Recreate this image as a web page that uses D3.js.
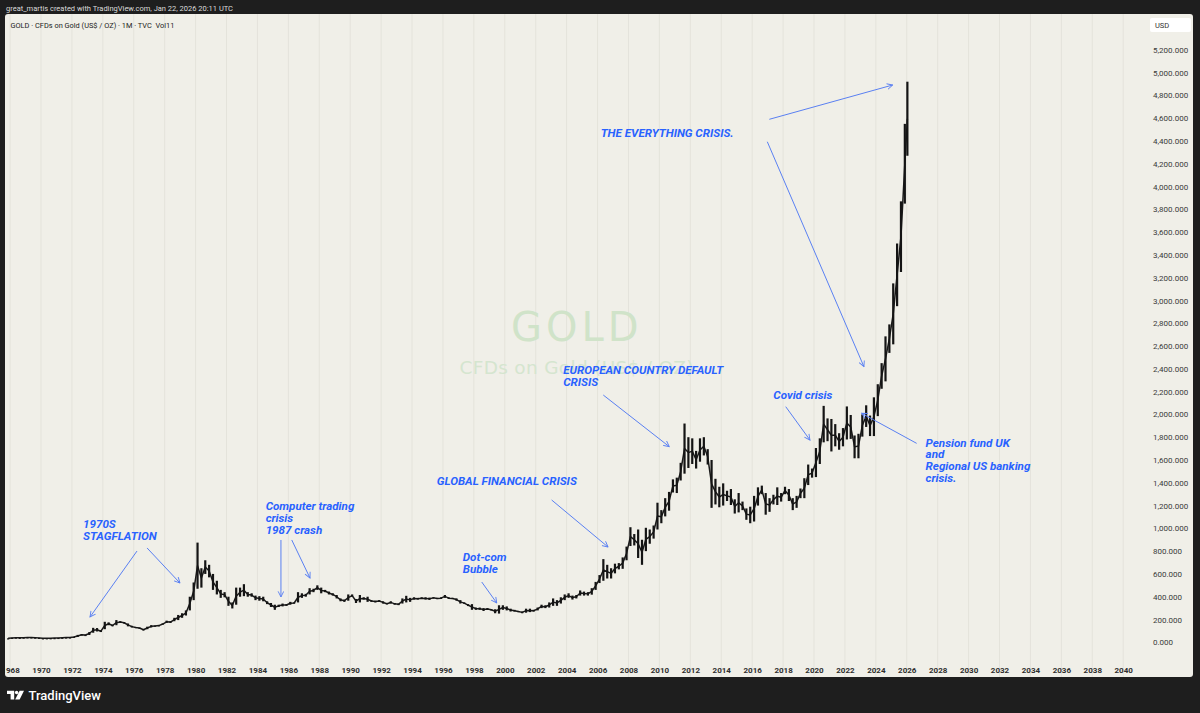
<!DOCTYPE html>
<html>
<head>
<meta charset="utf-8">
<script src="https://cdn.jsdelivr.net/npm/d3@7/dist/d3.min.js"></script>
<style>
    html, body { margin: 0; padding: 0; background: #1e1e1e; }
    svg { display: block; }
</style>
</head>
<body>
<div id="chart"></div>
<script>
// first bar = 1967 Q4, one value per quarter after that (last one is Jan 2026 only)
var firstQuarter = 1967.75;
var lastBarYear = 2026.04;

// quarterly lows (US$ / oz)
var quarterLow = [
    34.9,
    35.0, 38.5, 38.5, 39.0,     // 1968
    41.0, 42.0, 40.0, 35.5,     // 1969
    34.8, 35.0, 35.2, 36.5,     // 1970
    37.5, 38.5, 40.0, 42.0,     // 1971
    43.5, 47.0, 63.0, 62.0,     // 1972
    64, 84, 95, 90,             // 1973
    115, 150, 140, 150,         // 1974
    170, 165, 140, 130,         // 1975
    125, 124, 104, 115,         // 1976
    130, 140, 143, 155,         // 1977
    170, 170, 185, 195,         // 1978
    215, 235, 280, 370,         // 1979
    470, 480, 600, 570,         // 1980
    460, 420, 390, 395,         // 1981
    320, 297, 330, 400,         // 1982
    405, 400, 400, 370,         // 1983
    365, 360, 335, 310,         // 1984
    285, 310, 315, 320,         // 1985
    330, 340, 350, 390,         // 1986
    400, 420, 440, 460,         // 1987
    430, 440, 420, 410,         // 1988
    385, 360, 355, 365,         // 1989
    400, 345, 350, 375,         // 1990
    355, 355, 350, 355,         // 1991
    340, 333, 340, 330,         // 1992
    326, 340, 350, 355,         // 1993
    375, 375, 380, 375,         // 1994
    372, 385, 380, 380,         // 1995
    390, 380, 380, 365,         // 1996
    340, 338, 318, 285,         // 1997
    285, 285, 275, 285,         // 1998
    280, 255, 252, 285,         // 1999
    280, 270, 270, 265,         // 2000
    255, 260, 265, 270,         // 2001
    280, 300, 300, 305,         // 2002
    320, 320, 340, 370,         // 2003
    390, 375, 385, 410,         // 2004
    410, 410, 418, 460,         // 2005
    520, 540, 560, 560,         // 2006
    605, 640, 645, 720,         // 2007
    845, 850, 740, 680,         // 2008
    800, 865, 910, 990,         // 2009
    1045, 1105, 1155, 1315,     // 2010
    1310, 1420, 1480, 1530,     // 2011
    1565, 1525, 1585, 1640,     // 2012
    1560, 1180, 1210, 1185,     // 2013
    1200, 1240, 1205, 1130,     // 2014
    1140, 1160, 1075, 1045,     // 2015
    1060, 1200, 1300, 1120,     // 2016
    1145, 1210, 1205, 1235,     // 2017
    1300, 1240, 1160, 1180,     // 2018
    1265, 1265, 1380, 1445,     // 2019
    1450, 1565, 1755, 1765,     // 2020
    1675, 1720, 1690, 1720,     // 2021
    1780, 1785, 1615, 1615,     // 2022
    1805, 1890, 1810, 1810,     // 2023
    1985, 2225, 2290, 2540,     // 2024
    2615, 2950, 3250, 3850,     // 2025
    4270                        // 2026 (Jan)
];

// quarterly highs (US$ / oz)
var quarterHigh = [
    35.2,
    40, 42, 40, 42,             // 1968
    44, 43.5, 42, 40,           // 1969
    35.5, 36, 36.5, 37.5,       // 1970
    39, 40.5, 42.8, 43.5,       // 1971
    49, 65, 70, 65,             // 1972
    90, 127, 125, 105,          // 1973
    180, 175, 155, 195,         // 1974
    185, 178, 165, 145,         // 1975
    135, 128, 117, 137,         // 1976
    150, 147, 150, 165,         // 1977
    190, 185, 215, 240,         // 1978
    255, 280, 400, 525,         // 1979
    875, 650, 720, 680,         // 1980
    600, 540, 460, 440,         // 1981
    400, 350, 480, 480,         // 1982
    510, 440, 430, 410,         // 1983
    405, 400, 360, 345,         // 1984
    330, 330, 340, 335,         // 1985
    355, 350, 440, 430,         // 1986
    425, 475, 470, 500,         // 1987
    480, 460, 445, 430,         // 1988
    415, 385, 375, 420,         // 1989
    420, 380, 415, 395,         // 1990
    400, 370, 365, 370,         // 1991
    360, 345, 360, 345,         // 1992
    340, 385, 408, 390,         // 1993
    395, 390, 395, 395,         // 1994
    392, 395, 390, 395,         // 1995
    415, 395, 390, 385,         // 1996
    370, 350, 335, 335,         // 1997
    305, 305, 300, 300,         // 1998
    290, 290, 325, 325,         // 1999
    315, 295, 285, 275,         // 2000
    270, 295, 295, 285,         // 2001
    305, 330, 325, 350,         // 2002
    385, 370, 395, 420,         // 2003
    430, 410, 415, 455,         // 2004
    445, 440, 475, 530,         // 2005
    590, 730, 680, 650,         // 2006
    690, 695, 745, 840,         // 2007
    1010, 950, 990, 900,        // 2008
    1005, 990, 1025, 1225,      // 2009
    1160, 1265, 1320, 1430,     // 2010
    1445, 1575, 1920, 1800,     // 2011
    1790, 1680, 1790, 1800,     // 2012
    1695, 1600, 1435, 1365,     // 2013
    1395, 1330, 1345, 1255,     // 2014
    1310, 1235, 1175, 1190,     // 2015
    1285, 1360, 1375, 1310,     // 2016
    1265, 1295, 1360, 1310,     // 2017
    1365, 1345, 1265, 1285,     // 2018
    1350, 1440, 1560, 1525,     // 2019
    1705, 1790, 2075, 1965,     // 2020
    1960, 1915, 1835, 1880,     // 2021
    2070, 1995, 1815, 1830,     // 2022
    2000, 2080, 1990, 2150,     // 2023
    2265, 2450, 2685, 2790,     // 2024
    3150, 3500, 3870, 4550,     // 2025
    4920                        // 2026 (Jan)
];

// axis ticks
var yearTicks = [1968, 1970, 1972, 1974, 1976, 1978, 1980, 1982, 1984, 1986,
                 1988, 1990, 1992, 1994, 1996, 1998, 2000, 2002, 2004, 2006,
                 2008, 2010, 2012, 2014, 2016, 2018, 2020, 2022, 2024, 2026,
                 2028, 2030, 2032, 2034, 2036, 2038, 2040];
var priceTicks = [0, 200, 400, 600, 800, 1000, 1200, 1400, 1600, 1800, 2000,
                  2200, 2400, 2600, 2800, 3000, 3200, 3400, 3600, 3800, 4000,
                  4200, 4400, 4600, 4800, 5000, 5200];

// annotation text, anchored at [year, price] of first line
var noteLines = [
    ["1970S", "STAGFLATION"],
    ["Computer trading", "crisis", "1987 crash"],
    ["Dot-com", "Bubble"],
    ["GLOBAL FINANCIAL CRISIS"],
    ["EUROPEAN COUNTRY DEFAULT", "CRISIS"],
    ["Covid crisis"],
    ["Pension fund UK", "and", "Regional US banking", "crisis."],
    ["THE EVERYTHING CRISIS."]
];
var noteAnchors = [
    [1972.72, 1000], [1984.53, 1160], [1997.28, 710], [1995.60, 1383],
    [2003.78, 2352], [2017.37, 2135], [2027.22, 1718], [2006.20, 4434]
];

// arrows: [from, to] in [year, price]
var arrows = [
    [[1976.21, 801],  [1973.17, 222]],
    [[1976.86, 828],  [1978.99, 520]],
    [[1985.52, 898],  [1985.52, 398]],
    [[1986.22, 898],  [1987.40, 564]],
    [[1998.51, 529],  [1999.48, 345]],
    [[2003.03, 1249], [2006.68, 836]],
    [[2006.37, 2170], [2010.64, 1717]],
    [[2018.17, 2068], [2019.74, 1775]],
    [[2026.64, 1746], [2023.08, 2010]],
    [[2017.11, 4590], [2025.09, 4891]],
    [[2016.98, 4393], [2023.23, 2419]]
];

function init(){
    var w = 1200;
    var h = 713;
    var blue = '#2962ff';
    var arrowBlue = '#5a80f2';

    var svg = d3.select('#chart')
                .append('svg')
                .attr('width', w)
                .attr('height', h);

    // dark frame
    svg.append('rect')
        .attr('width', w)
        .attr('height', h)
        .attr('fill', '#1e1e1e');

    // chart panel
    svg.append('rect')
        .attr('x', 5)
        .attr('y', 14)
        .attr('width', 1188)
        .attr('height', 663)
        .attr('rx', 3)
        .attr('fill', '#f0efe8');

    var defs = svg.append('defs');
    defs.append('clipPath')
        .attr('id', 'panel-clip')
        .append('rect')
        .attr('x', 5)
        .attr('y', 14)
        .attr('width', 1188)
        .attr('height', 663);

    defs.append('marker')
        .attr('id', 'arrowhead')
        .attr('viewBox', '0 0 10 10')
        .attr('refX', 9)
        .attr('refY', 5)
        .attr('markerWidth', 7)
        .attr('markerHeight', 7)
        .attr('markerUnits', 'userSpaceOnUse')
        .attr('orient', 'auto')
        .append('path')
        .attr('d', 'M1,1 L9,5 L1,9')
        .attr('fill', 'none')
        .attr('stroke', arrowBlue)
        .attr('stroke-width', 1.3);

    var xScale = d3.scaleLinear()
                    .domain([1970, 2040])
                    .range([41, 1123.2]);

    var yScale = d3.scaleLinear()
                    .domain([0, 5200])
                    .range([642.3, 49.8]);

    var g = svg.append('g')
                .attr('clip-path', 'url(#panel-clip)');

    // vertical grid every 2 years
    g.selectAll('line.grid')
        .data(yearTicks)
        .enter()
        .append('line')
        .attr('class', 'grid')
        .attr('x1', function(d){ return xScale(d); })
        .attr('x2', function(d){ return xScale(d); })
        .attr('y1', 14)
        .attr('y2', 677)
        .attr('stroke', '#e4e3db')
        .attr('stroke-width', 1);

    // watermark
    g.append('text')
        .attr('x', 576.7)
        .attr('y', 340.7)
        .attr('text-anchor', 'middle')
        .attr('font-family', 'DejaVu Sans, Arial, sans-serif')
        .attr('font-size', 40)
        .attr('letter-spacing', 4)
        .attr('fill', '#d0e3c9')
        .text('GOLD');

    g.append('text')
        .attr('x', 576.7)
        .attr('y', 374)
        .attr('text-anchor', 'middle')
        .attr('font-family', 'DejaVu Sans, Arial, sans-serif')
        .attr('font-size', 18.5)
        .attr('letter-spacing', 0.3)
        .attr('fill', '#d5e5cf')
        .text('CFDs on Gold (US$ / OZ)');

    // price data, one record per quarter
    var series = quarterLow.map(function(d, i){
        return {
            t: Math.min(firstQuarter + i / 4 + 0.125, lastBarYear),
            low: d,
            high: quarterHigh[i]
        };
    });

    // thin line through the middle of each range joins the bars
    var midLine = d3.line()
                    .x(function(d){ return xScale(d.t); })
                    .y(function(d){ return yScale((d.low + d.high) / 2); });

    g.append('path')
        .datum(series)
        .attr('d', midLine)
        .attr('fill', 'none')
        .attr('stroke', '#1a1a1a')
        .attr('stroke-width', 1.5)
        .attr('stroke-linejoin', 'round');

    // one range bar per quarter
    var barW = 2.2;
    g.selectAll('rect.bar')
        .data(series)
        .enter()
        .append('rect')
        .attr('class', 'bar')
        .attr('x', function(d){ return xScale(d.t) - barW / 2; })
        .attr('y', function(d){ return yScale(d.high); })
        .attr('width', barW)
        .attr('height', function(d){
            return Math.max(1.2, yScale(d.low) - yScale(d.high));
        })
        .attr('fill', '#141414');

    // x axis
    var xAxis = d3.axisBottom(xScale)
                    .tickValues(yearTicks)
                    .tickFormat(d3.format('d'))
                    .tickSize(0)
                    .tickPadding(0);

    var xg = g.append('g')
                .attr('transform', 'translate(0,667)')
                .call(xAxis);
    xg.select('.domain').remove();
    xg.selectAll('text')
        .attr('font-family', 'Roboto, Arial, sans-serif')
        .attr('font-size', 8)
        .attr('font-weight', 700)
        .attr('fill', '#2e2e2e');

    // y axis on the right
    var yAxis = d3.axisRight(yScale)
                    .tickValues(priceTicks)
                    .tickFormat(d3.format(',.3f'))
                    .tickSize(0)
                    .tickPadding(0);

    var yg = svg.append('g')
                .attr('transform', 'translate(1153,0)')
                .call(yAxis);
    yg.select('.domain').remove();
    yg.selectAll('text')
        .attr('font-family', 'Roboto, Arial, sans-serif')
        .attr('font-size', 8)
        .attr('fill', '#3a3a3a');

    // currency box
    svg.append('rect')
        .attr('x', 1150)
        .attr('y', 18)
        .attr('width', 41)
        .attr('height', 14)
        .attr('rx', 2)
        .attr('fill', '#ffffff');
    svg.append('text')
        .attr('x', 1155)
        .attr('y', 28)
        .attr('font-family', 'Roboto, Arial, sans-serif')
        .attr('font-size', 7.5)
        .attr('fill', '#333')
        .text('USD');

    // arrows
    g.selectAll('line.arrow')
        .data(arrows)
        .enter()
        .append('line')
        .attr('class', 'arrow')
        .attr('x1', function(d){ return xScale(d[0][0]); })
        .attr('y1', function(d){ return yScale(d[0][1]); })
        .attr('x2', function(d){ return xScale(d[1][0]); })
        .attr('y2', function(d){ return yScale(d[1][1]); })
        .attr('stroke', arrowBlue)
        .attr('stroke-width', 1)
        .attr('marker-end', 'url(#arrowhead)');

    // annotation labels
    var notes = g.selectAll('text.note')
        .data(noteLines)
        .enter()
        .append('text')
        .attr('class', 'note')
        .attr('x', function(d, i){ return xScale(noteAnchors[i][0]); })
        .attr('y', function(d, i){ return yScale(noteAnchors[i][1]); })
        .attr('font-family', 'Roboto, Arial, sans-serif')
        .attr('font-size', 11.6)
        .attr('font-weight', 700)
        .attr('font-style', 'italic')
        .attr('fill', blue);

    notes.each(function(lines, i){
        var t = d3.select(this);
        var x0 = xScale(noteAnchors[i][0]);
        lines.forEach(function(line, j){
            t.append('tspan')
                .attr('x', x0)
                .attr('dy', j === 0 ? 0 : 11.8)
                .text(line);
        });
    });

    // header line above the panel
    svg.append('text')
        .attr('x', 6)
        .attr('y', 11)
        .attr('font-family', 'Roboto, Arial, sans-serif')
        .attr('font-size', 7.5)
        .attr('fill', '#dcdcdc')
        .text('great_martis created with TradingView.com, Jan 22, 2026 20:11 UTC');

    // symbol legend
    svg.append('text')
        .attr('x', 10.5)
        .attr('y', 28)
        .attr('font-family', 'Roboto, Arial, sans-serif')
        .attr('font-size', 7.4)
        .attr('fill', '#222')
        .style('white-space', 'pre')
        .text('GOLD \u00b7 CFDs on Gold (US$ / OZ) \u00b7 1M \u00b7 TVC  Vol11');

    // footer logo
    var logo = svg.append('g')
                .attr('fill', '#ffffff');
    logo.append('path')
        .attr('d', 'M7,690.8 L14.2,690.8 L14.2,699.4 L10.6,699.4 L10.6,694 L7,694 Z');
    logo.append('circle')
        .attr('cx', 16.6)
        .attr('cy', 692.5)
        .attr('r', 1.7);
    logo.append('path')
        .attr('d', 'M19.6,690.8 L24,690.8 L19.6,699.4 L15.2,699.4 Z');

    svg.append('text')
        .attr('x', 28.5)
        .attr('y', 699.8)
        .attr('font-family', 'Roboto, Arial, sans-serif')
        .attr('font-size', 13)
        .attr('font-weight', 500)
        .attr('fill', '#ffffff')
        .text('TradingView');
}

window.onload = init;
</script>
</body>
</html>
